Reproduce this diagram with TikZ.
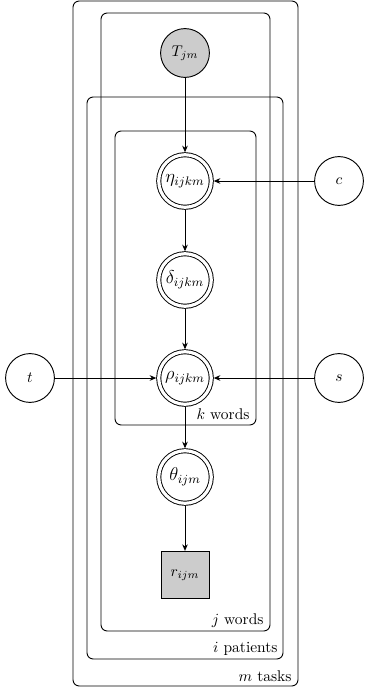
\documentclass[tikz,border=0pt]{standalone}
\usetikzlibrary{arrows.meta}
\begin{document}
\begin{tikzpicture}[x={(0.64516pt,0)}, y={(0,-0.64516pt)},
  line width=0.6pt,
  every node/.style={font=\fontsize{10}{12}\selectfont},
  latentc/.style={circle, draw, minimum size=31.5pt, inner sep=0pt, outer sep=0.3pt},
  detc/.style={circle, draw, double, double distance=2.05pt, minimum size=33.9pt, inner sep=0pt, outer sep=1.6pt, font=\fontsize{12}{14}\selectfont},
  obsc/.style={latentc, fill=gray!40},
  obsbox/.style={rectangle, draw, fill=gray!40, minimum width=31pt, minimum height=30.5pt, inner sep=0pt, outer sep=0.3pt},
  platebox/.style={draw, rounded corners=4pt},
  platecap/.style={anchor=base east, inner sep=0pt},
  edgearrow/.style={-{Stealth[length=4.2pt, width=3.6pt, inset=1.3pt]}}
]
\useasboundingbox (0,0) rectangle (364,692);
% plates
\draw[platebox] (73,1) rectangle (298,686);
\draw[platebox] (101,13) rectangle (270,631);
\draw[platebox] (87,97) rectangle (283,659);
\draw[platebox] (115,131) rectangle (256,425);
\node[platecap] (capm) at (292,681) {$m$ tasks};
\node[platecap] (capi) at (278,652) {$i$ patients};
\node[platecap] (capj) at (264,624) {$j$ words};
\node[platecap] (capk) at (250,419) {$k$ words};
% nodes
\node[obsc] (T) at (185,53) {$T_{jm}$};
\node[detc] (eta) at (185,181) {$\eta_{ijkm}$};
\node[detc] (delta) at (185,280) {$\delta_{ijkm}$};
\node[detc] (rho) at (185,378) {$\rho_{ijkm}$};
\node[detc] (theta) at (185,477) {$\theta_{ijm}$};
\node[obsbox] (r) at (185,575) {$r_{ijm}$};
\node[latentc] (c) at (339,181) {$c$};
\node[latentc] (t) at (30,378) {$t$};
\node[latentc] (s) at (339,378) {$s$};
% edges
\draw[edgearrow] (T) -- (eta);
\draw[edgearrow] (c) -- (eta);
\draw[edgearrow] (eta) -- (delta);
\draw[edgearrow] (delta) -- (rho);
\draw[edgearrow] (t) -- (rho);
\draw[edgearrow] (s) -- (rho);
\draw[edgearrow] (rho) -- (theta);
\draw[edgearrow] (theta) -- (r);
\end{tikzpicture}
\end{document}
